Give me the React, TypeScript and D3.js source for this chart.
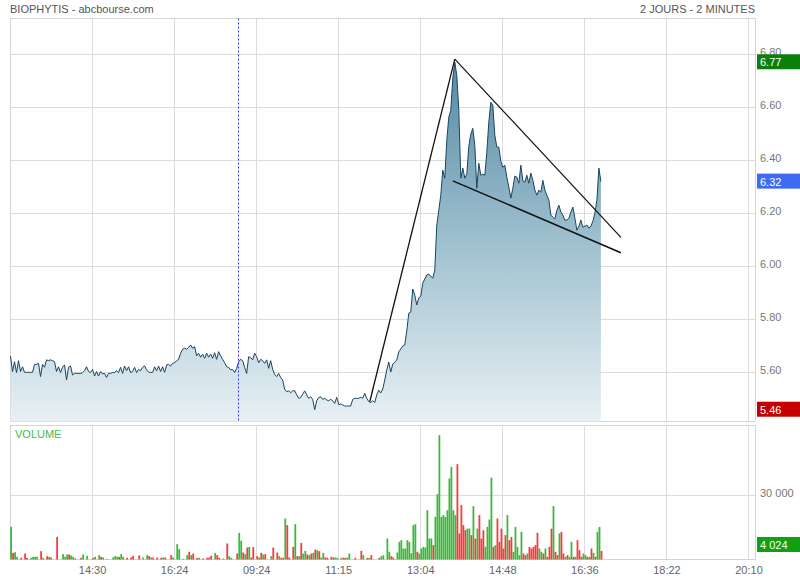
import React from "react";
import * as d3 from "d3";

const TITLE = "BIOPHYTIS - abcbourse.com";
const PERIOD = "2 JOURS - 2 MINUTES";
const VOLUME_LABEL = "VOLUME";

// 2-minute closing prices (day 1 afternoon, then day 2)
const prices = [
  // day 1
  5.663, 5.604, 5.641, 5.600, 5.645, 5.604, 5.622, 5.601, 5.601, 5.601,
  5.601, 5.601, 5.631, 5.631, 5.635, 5.585, 5.631, 5.620, 5.648, 5.645,
  5.648, 5.645, 5.641, 5.604, 5.622, 5.600, 5.620, 5.629, 5.572, 5.620,
  5.625, 5.591, 5.597, 5.597, 5.597, 5.597, 5.600, 5.607, 5.622, 5.604,
  5.600, 5.612, 5.587, 5.604, 5.587, 5.604, 5.595, 5.597, 5.582, 5.597,
  5.597, 5.600, 5.600, 5.607, 5.600, 5.620, 5.597, 5.625, 5.607, 5.622,
  5.600, 5.604, 5.620, 5.600, 5.612, 5.607, 5.620, 5.625, 5.610, 5.602,
  5.601, 5.601, 5.622, 5.607, 5.625, 5.604, 5.622, 5.601, 5.629, 5.631,
  5.625, 5.635, 5.637, 5.645, 5.650, 5.673, 5.688, 5.692, 5.688, 5.695,
  5.704, 5.692, 5.698, 5.663, 5.673, 5.658, 5.670, 5.654, 5.673, 5.658,
  5.670, 5.654, 5.675, 5.650, 5.679, 5.663, 5.650, 5.637, 5.622, 5.620,
  5.610, 5.612, 5.600, 5.616,
  // day 2
  5.641, 5.650, 5.645, 5.620, 5.597, 5.660, 5.656, 5.648, 5.673, 5.660,
  5.637, 5.650, 5.645, 5.635, 5.648, 5.616, 5.645, 5.612, 5.593, 5.585,
  5.597, 5.581, 5.572, 5.537, 5.528, 5.531, 5.524, 5.531, 5.532, 5.516,
  5.503, 5.506, 5.519, 5.531, 5.516, 5.503, 5.509, 5.499, 5.460, 5.494,
  5.506, 5.509, 5.499, 5.503, 5.497, 5.494, 5.499, 5.494, 5.484, 5.507,
  5.479, 5.482, 5.478, 5.474, 5.474, 5.474, 5.474, 5.499, 5.503, 5.503,
  5.503, 5.507, 5.503, 5.522, 5.503, 5.491, 5.487, 5.494, 5.487, 5.516,
  5.534, 5.523, 5.538, 5.572, 5.610, 5.640, 5.602, 5.632, 5.640, 5.647,
  5.678, 5.689, 5.700, 5.704, 5.757, 5.824, 5.828, 5.915, 5.892, 5.855,
  5.881, 5.889, 5.937, 5.953, 5.968, 5.971, 5.964, 5.956, 5.986, 6.156,
  6.212, 6.269, 6.363, 6.333, 6.476, 6.563, 6.589, 6.710, 6.770, 6.721,
  6.589, 6.333, 6.371, 6.333, 6.348, 6.453, 6.499, 6.521, 6.457, 6.295,
  6.389, 6.344, 6.348, 6.344, 6.431, 6.544, 6.619, 6.608, 6.495, 6.450,
  6.450, 6.397, 6.374, 6.382, 6.337, 6.299, 6.258, 6.295, 6.341, 6.337,
  6.314, 6.382, 6.322, 6.318, 6.344, 6.314, 6.352, 6.325, 6.288, 6.269,
  6.288, 6.280, 6.325, 6.288, 6.269, 6.250, 6.194, 6.186, 6.179, 6.212,
  6.231, 6.205, 6.194, 6.175, 6.175, 6.182, 6.205, 6.224, 6.182, 6.137,
  6.152, 6.175, 6.148, 6.152, 6.156, 6.145, 6.152, 6.171, 6.201, 6.250,
  6.371, 6.320,
];

// volume per bar; positive = up bar (green), negative = down bar (red)
const volumes = [
  15300, -3100, 3400, 1250, 0, -780, 0, -2800, -780, 0,
  780, 1250, 1250, 1250, 0, -3900, 780, 0, -1560, 1250,
  -940, 0, 0, -10600, 0, 0, 2500, 1250, 2340, -2340,
  1875, 1250, -470, 0, 0, -780, 2340, 0, 1720, 0,
  0, -780, 1250, 0, 2030, -1250, 940, 0, 310, 0,
  0, 940, 1560, 1250, -1250, 2500, 1250, 0, -780, 0,
  -940, -1720, 0, 0, -1875, 0, 940, 0, 2030, -1560,
  940, -940, 0, -940, 0, -780, 940, -940, 0, 0,
  -2030, 940, 0, 7200, 4840, 0, 310, 0, 2030, -3600,
  2030, -2800, 0, -780, 780, 0, -470, 0, -780, -940,
  -1720, 0, 3100, -2030, -780, 0, 470, 0, -7500, 1560,
  780, 0, 0, -2800,
  12500, 8750, -3280, 2500, -5600, 5940, -940, -5780, 0, -1560,
  940, -3100, 2340, -2500, 0, 0, 1560, -5600, 0, -3280,
  1560, -780, -780, 19200, -16100, -940, 0, -5940, 16560, -1560,
  1560, -7800, 2800, 4060, -2340, 2030, -2800, 3100, -4690, 4375,
  -3900, 940, 3100, -940, -780, 0, -1250, -940, 940, 780,
  0, 780, -780, -780, 940, 2800, 0, 0, -780, 0,
  0, -4060, 2030, 0, -780, 780, -2030, 0, 0, 0,
  -780, 1560, 2030, 0, 9840, 3600, -1560, -940, 0, 3280,
  8280, 9060, 5160, 5160, 9060, 8280, 3000, 16100, 16560, -3600,
  2800, 5160, 5940, 5600, 23100, 9840, 9840, -6720, 20000, 30600,
  58300, 20000, 20800, 20000, 23100, 37970, 43400, 23100, 20800, -44700,
  -12200, -25500, -16100, -13750, 14500, 14500, -11400, 25000, -9840, 14500,
  -20800, -9840, -13750, 5940, 15300, 18750, 38400, -5940, 6720, -19200,
  -8280, -14500, -5160, -11400, 20800, -9060, -10600, 3600, 15300, 5940,
  2030, 13000, -2800, -2030, 2800, -5940, -5160, -5940, -6720, -12500,
  5160, 3600, -2800, 5160, -1250, -5940, -14500, 25000, -3600, -2030,
  12200, -13000, -2800, 1250, -2030, 1250, 8280, -1250, 1250, -9060,
  -4375, -1250, 2800, 2030, -1250, 1250, -5160, 3100, -1250, 12970,
  15300, -4024,
];

const timeLabels = ["14:30", "16:24", "09:24", "11:15", "13:04", "14:48", "16:36", "18:22", "20:10"];
const TICK_STEP = 41; // bars between time gridlines
const X_DOMAIN_END = 372; // bar slots across the panel
const DAY_BREAK = 113.75; // between the two sessions
const priceTicks = [5.6, 5.8, 6.0, 6.2, 6.4, 6.6, 6.8];
const volumeTicks = [30000];

// hand-drawn trend lines (bar index, price)
const trendLines = [
  { i1: 179.5, p1: 5.49, i2: 222, p2: 6.782, w: 1.3 },
  { i1: 222, p1: 6.782, i2: 305, p2: 6.11, w: 1.2 },
  { i1: 221, p1: 6.323, i2: 305, p2: 6.052, w: 1.5 },
];

const FONT = "'Liberation Sans', Arial, Helvetica, sans-serif";
const W = 800;
const H = 580;
const L = 10.5;
const R = 755.5;
const PT = 18.5;
const PB = 421.5;
const VT = 425.5;
const VB = 559.5;

const fmtVol = (v: number) => d3.format(",")(v).replace(/,/g, " ");

export default function App() {
  const x = d3.scaleLinear().domain([0, X_DOMAIN_END]).range([L, R - 0.5]);
  const y = d3.scaleLinear().domain([5.6, 6.8]).range([372.6, 54.3]);
  const v = d3.scaleLinear().domain([0, 30000]).range([VB, 495.5]);

  const area = d3
    .area<number>()
    .x((_, i) => x(i))
    .y0(PB)
    .y1((d) => y(d));
  const line = d3
    .line<number>()
    .x((_, i) => x(i))
    .y((d) => y(d));

  const hi = d3.max(prices) as number;
  const lo = d3.min(prices) as number;
  const last = prices[prices.length - 1];
  const lastVol = Math.abs(volumes[volumes.length - 1]);

  const tickIdx = timeLabels.map((_, k) => (k + 1) * TICK_STEP);
  const crisp = (n: number) => Math.round(n - 0.5) + 0.5;

  const boxes = [
    { val: hi, color: "#0a7f0a" },
    { val: last, color: "#3d6cf2" },
    { val: lo, color: "#c40000" },
  ];

  const volBoxY = Math.min(v(lastVol), VB - 15);

  return (
    <svg
      width={W}
      height={H}
      style={{ position: "absolute", left: 0, top: 0, background: "#fff" }}
      fontFamily={FONT}
    >
      <defs>
        <linearGradient id="areaGrad" gradientUnits="userSpaceOnUse" x1="0" y1={y(6.8)} x2="0" y2={PB}>
          <stop offset="0%" stopColor="#5287a2" />
          <stop offset="50%" stopColor="#9dbfce" />
          <stop offset="100%" stopColor="#e8f0f4" />
        </linearGradient>
      </defs>
      <rect x={0} y={0} width={W} height={H} fill="#fff" />

      {/* header */}
      <text x={10} y={13} fontSize={11} fill="#555">{TITLE}</text>
      <text x={755} y={13} fontSize={11} fill="#555" textAnchor="end">{PERIOD}</text>

      {/* price panel grid */}
      {priceTicks.map((p) => (
        <line key={"hp" + p} x1={L} x2={R} y1={crisp(y(p))} y2={crisp(y(p))} stroke="#dcdcdc" />
      ))}
      {tickIdx.map((t) => (
        <line key={"vp" + t} x1={crisp(x(t))} x2={crisp(x(t))} y1={PT} y2={PB} stroke="#dcdcdc" />
      ))}
      <rect x={L} y={PT} width={R - L} height={PB - PT} fill="none" stroke="#d4d4d4" />

      {/* area + line */}
      <path d={area(prices) as string} fill="url(#areaGrad)" />
      <path d={line(prices) as string} fill="none" stroke="#1a4560" strokeWidth={1} strokeLinejoin="round" />

      {/* day separator */}
      <line x1={crisp(x(DAY_BREAK))} x2={crisp(x(DAY_BREAK))} y1={PT} y2={PB} stroke="#3a3aff" strokeDasharray="2,2" />

      {/* trend lines */}
      {trendLines.map((t, k) => (
        <line key={"tl" + k} x1={x(t.i1)} y1={y(t.p1)} x2={x(t.i2)} y2={y(t.p2)} stroke="#111" strokeWidth={t.w} />
      ))}

      {/* price labels */}
      {priceTicks.map((p) => (
        <text key={"pl" + p} x={760} y={crisp(y(p)) + 1} fontSize={11} fill="#777">
          {d3.format(".2f")(p)}
        </text>
      ))}
      {boxes.map((b) => (
        <g key={"bx" + b.color}>
          <rect x={757} y={y(b.val) - 8} width={43} height={15} fill={b.color} />
          <text x={760} y={y(b.val) + 4} fontSize={11} fill="#fff">
            {d3.format(".2f")(b.val)}
          </text>
        </g>
      ))}

      {/* volume panel */}
      {volumeTicks.map((t) => (
        <line key={"hv" + t} x1={L} x2={R} y1={crisp(v(t))} y2={crisp(v(t))} stroke="#dcdcdc" />
      ))}
      {tickIdx.map((t) => (
        <line key={"vv" + t} x1={crisp(x(t))} x2={crisp(x(t))} y1={VT} y2={VB} stroke="#dcdcdc" />
      ))}
      <rect x={L} y={VT} width={R - L} height={VB - VT} fill="none" stroke="#d4d4d4" />
      {volumes.map((vol, i) =>
        vol === 0 ? null : (
          <rect
            key={"vb" + i}
            x={x(i) - 0.3}
            y={v(Math.abs(vol))}
            width={1.8}
            height={VB - v(Math.abs(vol))}
            fill={vol > 0 ? "#3cb93c" : "#f53b3b"}
          />
        )
      )}
      <text x={15} y={437.5} fontSize={11} fill="#44bb44">{VOLUME_LABEL}</text>
      {volumeTicks.map((t) => (
        <text key={"vl" + t} x={760} y={crisp(v(t)) + 1} fontSize={11} fill="#777">
          {fmtVol(t)}
        </text>
      ))}
      <rect x={757} y={volBoxY - 7.5} width={43} height={15} fill="#11a011" />
      <text x={760} y={volBoxY + 4} fontSize={11} fill="#fff">{fmtVol(lastVol)}</text>

      {/* time labels */}
      {tickIdx.map((t, k) => (
        <text key={"tx" + t} x={x(t)} y={574} fontSize={11} fill="#666" textAnchor="middle">
          {timeLabels[k]}
        </text>
      ))}
    </svg>
  );
}
